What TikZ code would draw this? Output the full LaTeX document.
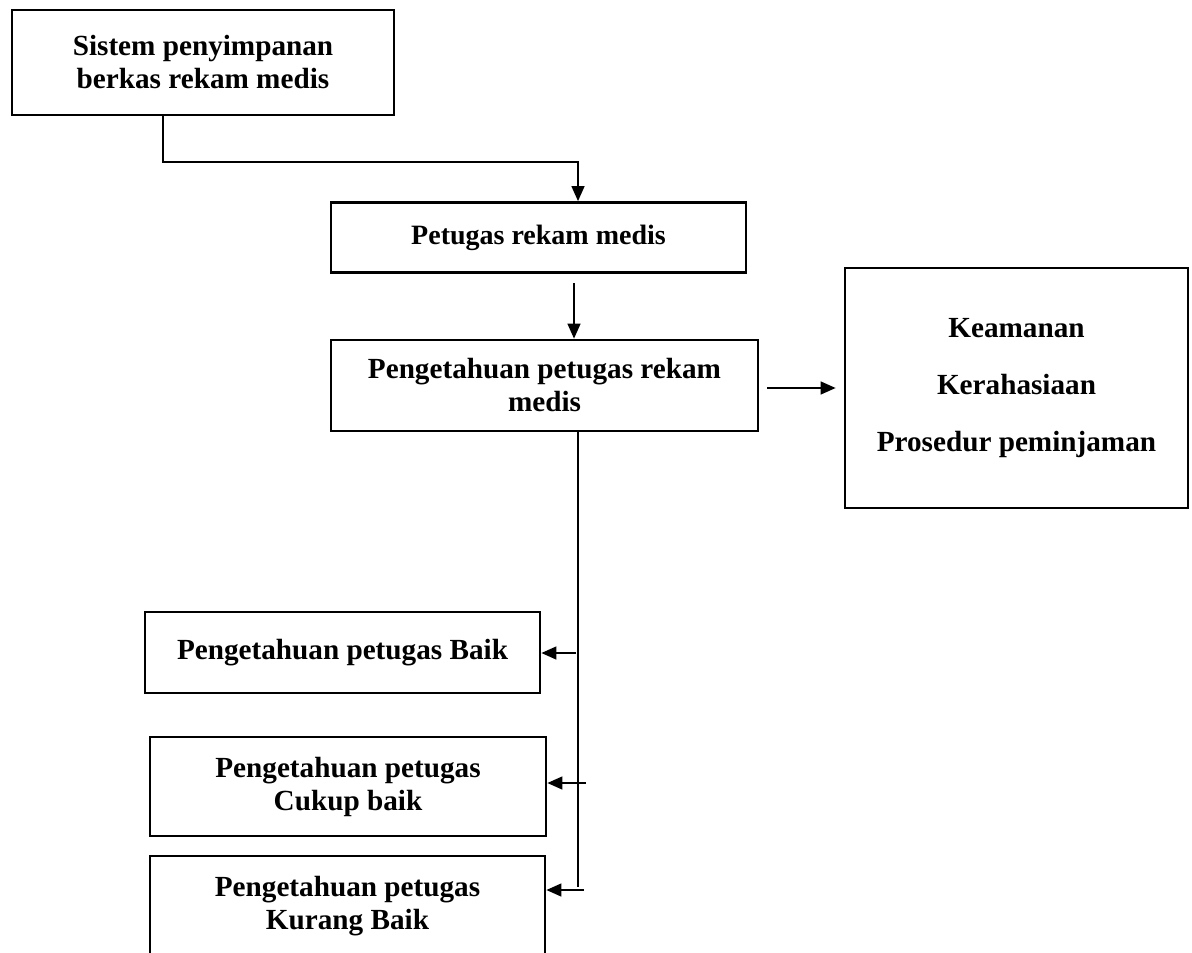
\documentclass[tikz,border=0pt]{standalone}
\usepackage{fontspec}
\setmainfont{Liberation Serif}
\usetikzlibrary{arrows.meta}

\begin{document}
\begin{tikzpicture}[x=0.5pt,y=-0.5pt,>={Triangle[length=7.5pt,width=6.5pt]},
    box/.style={draw,line width=1.4pt,align=center,inner sep=0pt,
      font=\fontsize{14.6}{16.5}\selectfont\bfseries},
    link/.style={line width=0.7pt}]
    \useasboundingbox (0,0) rectangle (1192,952);
    \node[box,minimum width=191pt,minimum height=52.5pt] (sistem) at (203,62.5)
      {Sistem penyimpanan\\berkas rekam medis};
    \node[box,minimum width=207.5pt,minimum height=35pt,
      font=\fontsize{14}{16.5}\selectfont\bfseries] (petugas) at (538.5,237.5)
      {Petugas rekam medis};
    \node[box,minimum width=213.5pt,minimum height=45.5pt] (tahu) at (544.5,385.5)
      {Pengetahuan petugas rekam\\medis};
    \node[box,minimum width=171.5pt,minimum height=120pt] (aspek) at (1016.5,388)
      {Keamanan\\[12pt]Kerahasiaan\\[12pt]Prosedur peminjaman};
    \node[box,minimum width=197.5pt,minimum height=40.5pt] (baik) at (342.5,652.5)
      {Pengetahuan petugas Baik};
    \node[box,minimum width=198pt,minimum height=49.5pt] (cukup) at (348,786.5)
      {Pengetahuan petugas\\Cukup baik};
    \node[box,minimum width=197.5pt,minimum height=50pt] (kurang) at (347.5,906)
      {Pengetahuan petugas\\Kurang Baik};
    %
    \coordinate (bend) at (163,162);
    \coordinate (drop) at (578,162);
    \coordinate (mid) at (574,283);
    \coordinate (side) at (767,388);
    \coordinate (trunk) at (578,887);
    \coordinate (t1) at (576,653);
    \coordinate (t2) at (586,783);
    \coordinate (t3) at (584,890);
    \draw[link,->] (sistem.south -| bend) |- (drop) -- (petugas.north -| drop);
    \draw[link,->] (mid) -- (tahu.north -| mid);
    \draw[link,->,shorten >=4pt] (side) -- (aspek.west |- side);
    \draw[link] (tahu.south -| trunk) -- (trunk);
    \draw[link,->] (t1) -- (baik.east |- t1);
    \draw[link,->] (t2) -- (cukup.east |- t2);
    \draw[link,->] (t3) -- (kurang.east |- t3);
\end{tikzpicture}
\end{document}
